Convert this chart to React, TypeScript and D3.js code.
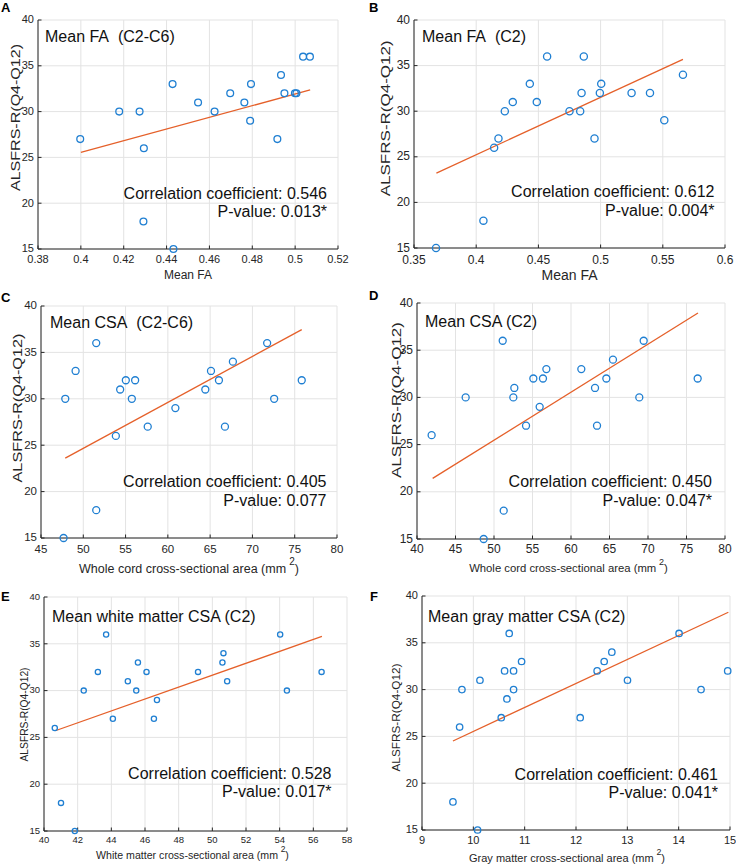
import React from 'react';
import * as d3 from 'd3';

// ---------- data ----------
const yTicks = [15, 20, 25, 30, 35, 40];

const xTicksA = [0.38, 0.4, 0.42, 0.44, 0.46, 0.48, 0.5, 0.52];
const xA = [0.3997, 0.4179, 0.4274, 0.4294, 0.4292, 0.4428, 0.4432, 0.4547, 0.4624, 0.4697, 0.4763, 0.479, 0.4794, 0.4917, 0.4934, 0.495, 0.4999, 0.5006, 0.5037, 0.5069];
const yA = [27, 30, 30, 26, 18, 33, 15, 31, 30, 32, 31, 29, 33, 27, 34, 32, 32, 32, 36, 36];
const fitXA = [0.4, 0.507];
const fitYA = [25.54, 32.37];

const xTicksB = [0.35, 0.4, 0.45, 0.5, 0.55, 0.6];
const xB = [0.3677, 0.4058, 0.4144, 0.4179, 0.423, 0.4294, 0.4431, 0.4487, 0.457, 0.475, 0.4836, 0.4847, 0.4865, 0.4951, 0.4994, 0.5005, 0.5249, 0.5397, 0.5512, 0.5662];
const yB = [15, 18, 26, 27, 30, 31, 33, 31, 36, 30, 30, 32, 36, 27, 32, 33, 32, 32, 29, 34];
const fitXB = [0.368, 0.5662];
const fitYB = [23.21, 35.69];

const xTicksC = [45, 50, 55, 60, 65, 70, 75, 80];
const xC = [47.67, 47.87, 49.09, 51.53, 51.53, 53.85, 54.36, 55.03, 55.74, 56.13, 57.62, 60.89, 64.43, 65.1, 66.04, 66.75, 67.69, 71.74, 72.57, 75.83];
const yC = [15, 30, 33, 36, 18, 26, 31, 32, 30, 32, 27, 29, 31, 33, 32, 27, 34, 36, 30, 32];
const fitXC = [47.87, 75.83];
const fitYC = [23.6, 37.46];

const xTicksD = [40, 45, 50, 55, 60, 65, 70, 75, 80];
const xD = [41.9, 46.32, 48.66, 51.13, 51.26, 52.51, 52.64, 54.16, 55.11, 55.93, 56.36, 56.8, 61.34, 63.12, 63.38, 64.59, 65.45, 68.87, 69.44, 76.45];
const yD = [26, 30, 15, 36, 18, 30, 31, 27, 32, 29, 32, 33, 33, 31, 27, 32, 34, 30, 36, 32];
const fitXD = [42.03, 76.49];
const fitYD = [21.42, 38.94];

const xTicksE = [40, 42, 44, 46, 48, 50, 52, 54, 56, 58];
const xE = [40.64, 41.01, 41.83, 42.36, 43.2, 43.69, 44.09, 44.98, 45.48, 45.58, 46.09, 46.53, 46.71, 49.15, 50.6, 50.66, 50.88, 54.03, 54.43, 56.49];
const yE = [26, 18, 15, 30, 32, 36, 27, 31, 30, 33, 32, 27, 29, 32, 33, 34, 31, 36, 30, 32];
const fitXE = [40.67, 56.51];
const fitYE = [25.71, 35.79];

const xTicksF = [9, 10, 11, 12, 13, 14, 15];
const xF = [9.603, 9.733, 9.778, 10.083, 10.129, 10.544, 10.609, 10.654, 10.699, 10.784, 10.784, 10.94, 12.082, 12.412, 12.549, 12.698, 13.003, 14.008, 14.436, 14.955];
const yF = [18, 26, 30, 15, 31, 27, 32, 29, 36, 32, 30, 33, 27, 32, 33, 34, 31, 36, 30, 32];
const fitXF = [9.603, 14.968];
const fitYF = [24.51, 38.26];

const panelLetters = ['A', 'B', 'C', 'D', 'E', 'F'];
const panelTitles = ['Mean FA\u00a0\u00a0(C2-C6)', 'Mean FA\u00a0\u00a0(C2)', 'Mean CSA\u00a0\u00a0(C2-C6)', 'Mean CSA (C2)', 'Mean white matter CSA (C2)', 'Mean gray matter CSA (C2)'];
const xLabels = ['Mean FA', 'Mean FA', 'Whole cord cross-sectional area (mm', 'Whole cord cross-sectional area (mm', 'White matter cross-sectional area (mm', 'Gray matter cross-sectional area (mm'];
const corrValues = ['0.546', '0.612', '0.405', '0.450', '0.528', '0.461'];
const pValues = ['0.013*', '0.004*', '0.077', '0.047*', '0.017*', '0.041*'];
const yLabel = 'ALSFRS-R(Q4-Q12)';

// ---------- layout (styles, not data) ----------
type Layout = {
  l: number; r: number; t: number; b: number;
  letterX: number; letterY: number;
  titleX: number; titleY: number;
  annR: number; annY1: number; annY2: number;
  tickFs: number; xTickDy: number;
  xlabX: number; xlabY: number; xlabFs: number;
  ylabX: number; ylabY: number; ylabLen: number; ylabFs: number;
  rad: number; sup: boolean;
};

const layouts: Layout[] = [
  { l: 38, r: 338, t: 20, b: 249, letterX: 1, letterY: 12, titleX: 45, titleY: 42, annR: 327, annY1: 199, annY2: 217, tickFs: 11, xTickDy: 14, xlabX: 188, xlabY: 279, xlabFs: 12, ylabX: 20, ylabY: 117.5, ylabLen: 147, ylabFs: 12.5, rad: 3.4, sup: false },
  { l: 414, r: 725, t: 20, b: 248, letterX: 369, letterY: 12, titleX: 422, titleY: 42, annR: 714.5, annY1: 197, annY2: 216, tickFs: 12, xTickDy: 15.5, xlabX: 569.5, xlabY: 280, xlabFs: 14, ylabX: 390, ylabY: 118.3, ylabLen: 156, ylabFs: 13, rad: 3.6, sup: false },
  { l: 41, r: 337, t: 306, b: 538, letterX: 1, letterY: 301.5, titleX: 50, titleY: 327.5, annR: 326.5, annY1: 487, annY2: 506, tickFs: 11.5, xTickDy: 15, xlabX: 189, xlabY: 573, xlabFs: 12.5, ylabX: 21.5, ylabY: 408, ylabLen: 149, ylabFs: 12.5, rad: 3.5, sup: true },
  { l: 417, r: 725, t: 303, b: 539, letterX: 369, letterY: 300, titleX: 425, titleY: 326.5, annR: 712, annY1: 487, annY2: 506, tickFs: 12, xTickDy: 14, xlabX: 568.5, xlabY: 572, xlabFs: 11.3, ylabX: 400.5, ylabY: 400, ylabLen: 156, ylabFs: 13, rad: 3.5, sup: true },
  { l: 44, r: 347, t: 597, b: 831, letterX: 1, letterY: 600.5, titleX: 52, titleY: 621.5, annR: 331.5, annY1: 779, annY2: 797, tickFs: 9.5, xTickDy: 12, xlabX: 192.5, xlabY: 859, xlabFs: 10.6, ylabX: 27.5, ylabY: 714.5, ylabLen: 94, ylabFs: 10, rad: 2.6, sup: true },
  { l: 422, r: 730, t: 596, b: 830, letterX: 370, letterY: 600.5, titleX: 428, titleY: 621.5, annR: 718, annY1: 780, annY2: 798, tickFs: 11, xTickDy: 13.5, xlabX: 567, xlabY: 861.5, xlabFs: 11, ylabX: 400, ylabY: 717.5, ylabLen: 108, ylabFs: 11, rad: 3.2, sup: true },
];

const xsAll = [xA, xB, xC, xD, xE, xF];
const ysAll = [yA, yB, yC, yD, yE, yF];
const xTicksAll = [xTicksA, xTicksB, xTicksC, xTicksD, xTicksE, xTicksF];
const fitXAll = [fitXA, fitXB, fitXC, fitXD, fitXE, fitXF];
const fitYAll = [fitYA, fitYB, fitYC, fitYD, fitYE, fitYF];

const FONT = '"Liberation Sans", Arial, Helvetica, sans-serif';
const AXIS = '#262626';
const GRID = '#e3e3e3';
const MARK = '#1f7fd2';
const FIT = '#e5602a';

const fmt = d3.format('~g');

function Panel({ i }: { i: number }) {
  const L = layouts[i];
  const xt = xTicksAll[i];
  const x = d3.scaleLinear().domain([xt[0], xt[xt.length - 1]]).range([L.l, L.r]);
  const y = d3.scaleLinear().domain([15, 40]).range([L.b, L.t]);
  const xs = xsAll[i];
  const ys = ysAll[i];
  const fitLine = d3.line<number>().x((_, k) => x(fitXAll[i][k])).y((_, k) => y(fitYAll[i][k]));
  const tick = 3.5;
  const supRaise = L.xlabFs * 0.62;
  return (
    <g fontFamily={FONT}>
      {/* grid */}
      {xt.map((v) => (
        <line key={'gx' + v} x1={x(v)} x2={x(v)} y1={L.t} y2={L.b} stroke={GRID} strokeWidth={1} />
      ))}
      {yTicks.map((v) => (
        <line key={'gy' + v} x1={L.l} x2={L.r} y1={y(v)} y2={y(v)} stroke={GRID} strokeWidth={1} />
      ))}
      {/* axes */}
      <line x1={L.l} x2={L.r} y1={L.b} y2={L.b} stroke={AXIS} strokeWidth={1} />
      <line x1={L.l} x2={L.l} y1={L.t} y2={L.b} stroke={AXIS} strokeWidth={1} />
      {xt.map((v) => (
        <g key={'tx' + v}>
          <line x1={x(v)} x2={x(v)} y1={L.b} y2={L.b - tick} stroke={AXIS} />
          <text x={x(v)} y={L.b + L.xTickDy} textAnchor="middle" fontSize={L.tickFs} fill={AXIS}>
            {fmt(v)}
          </text>
        </g>
      ))}
      {yTicks.map((v) => (
        <g key={'ty' + v}>
          <line x1={L.l} x2={L.l + tick} y1={y(v)} y2={y(v)} stroke={AXIS} />
          <text x={L.l - 4} y={y(v)} dy="0.3em" textAnchor="end" fontSize={L.tickFs} fill={AXIS}>
            {v}
          </text>
        </g>
      ))}
      {/* fit line */}
      <path d={fitLine([0, 1]) || ''} fill="none" stroke={FIT} strokeWidth={1.3} />
      {/* points */}
      {xs.map((v, k) => (
        <circle key={'p' + k} cx={x(v)} cy={y(ys[k])} r={L.rad} fill="none" stroke={MARK} strokeWidth={1.3} />
      ))}
      {/* texts */}
      <text x={L.letterX} y={L.letterY} fontSize={13} fontWeight="bold" fill="#000">
        {panelLetters[i]}
      </text>
      <text x={L.titleX} y={L.titleY} fontSize={16} fill="#111">
        {panelTitles[i]}
      </text>
      <text x={L.annR} y={L.annY1} fontSize={16} textAnchor="end" fill="#111">
        {'Correlation coefficient: ' + corrValues[i]}
      </text>
      <text x={L.annR} y={L.annY2} fontSize={16} textAnchor="end" fill="#111">
        {'P-value: ' + pValues[i]}
      </text>
      <text x={L.xlabX} y={L.xlabY} fontSize={L.xlabFs} textAnchor="middle" fill={AXIS}>
        {xLabels[i]}
        {L.sup ? (
          <>
            <tspan dx={L.xlabFs * 0.25} dy={-supRaise} fontSize={L.xlabFs * 0.8}>2</tspan>
            <tspan dy={supRaise}>)</tspan>
          </>
        ) : null}
      </text>
      <text
        transform={`translate(${L.ylabX},${L.ylabY}) rotate(-90)`}
        fontSize={L.ylabFs}
        textAnchor="middle"
        fill={AXIS}
        textLength={L.ylabLen}
        lengthAdjust="spacingAndGlyphs"
      >
        {yLabel}
      </text>
    </g>
  );
}

export default function App() {
  return (
    <svg
      width={736}
      height={867}
      viewBox="0 0 736 867"
      style={{ position: 'absolute', left: 0, top: 0, background: '#fff' }}
    >
      <rect x={0} y={0} width={736} height={867} fill="#fff" />
      {panelLetters.map((_, i) => (
        <Panel key={i} i={i} />
      ))}
    </svg>
  );
}
